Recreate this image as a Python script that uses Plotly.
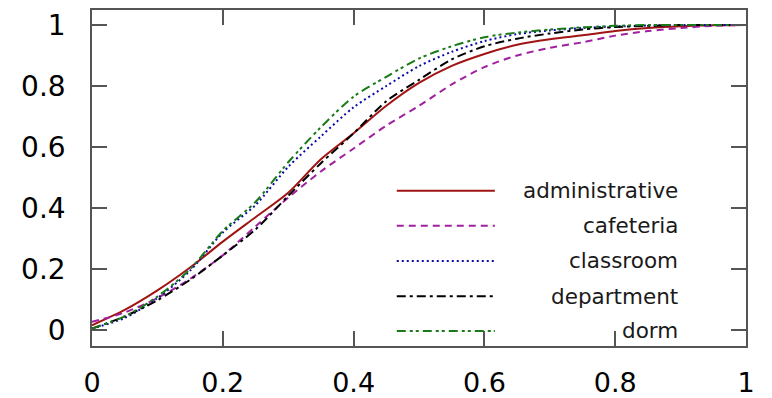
import plotly.graph_objects as go

x_vals = [0, 0.05, 0.1, 0.15, 0.2, 0.25, 0.3, 0.35, 0.4, 0.45, 0.5,
          0.55, 0.6, 0.65, 0.7, 0.75, 0.8, 0.85, 0.9, 0.95, 1.0]

administrative = [0.016, 0.066, 0.13, 0.205, 0.29, 0.37, 0.45, 0.56, 0.645, 0.735, 0.81,
                  0.866, 0.905, 0.935, 0.953, 0.966, 0.98, 0.99, 0.996, 0.999, 1.0]
cafeteria = [0.027, 0.058, 0.105, 0.168, 0.245, 0.34, 0.434, 0.52, 0.595, 0.67, 0.735,
             0.805, 0.862, 0.9, 0.925, 0.943, 0.965, 0.98, 0.99, 0.997, 1.0]
classroom = [0.005, 0.04, 0.105, 0.195, 0.32, 0.41, 0.535, 0.635, 0.73, 0.80, 0.865,
             0.912, 0.947, 0.97, 0.982, 0.99, 0.995, 0.998, 1.0, 1.0, 1.0]
department = [0.005, 0.045, 0.098, 0.165, 0.245, 0.33, 0.44, 0.547, 0.645, 0.75, 0.82,
              0.887, 0.93, 0.955, 0.972, 0.985, 0.993, 0.997, 1.0, 1.0, 1.0]
dorm = [0.005, 0.045, 0.11, 0.2, 0.325, 0.42, 0.55, 0.665, 0.765, 0.83, 0.89,
        0.93, 0.96, 0.975, 0.985, 0.992, 0.997, 1.0, 1.0, 1.0, 1.0]

names = ["administrative", "cafeteria", "classroom", "department", "dorm"]
series = [administrative, cafeteria, classroom, department, dorm]
colors = ["#a01414", "#a020a0", "#0a0aa8", "#000000", "#1a7a1a"]
dashes = ["solid", "7px,5px", "2px,3px", "9px,4px,3px,4px", "9px,4px,3px,3px,3px,4px"]

x_ticks = [0, 0.2, 0.4, 0.6, 0.8, 1]
x_ticktext = ["0", "0.2", "0.4", "0.6", "0.8", "1"]
y_ticks = [0, 0.2, 0.4, 0.6, 0.8, 1]
y_ticktext = ["0", "0.2", "0.4", "0.6", "0.8", "1"]

FONT = "DejaVu Sans, Liberation Sans, Arial, sans-serif"

fig = go.Figure()
for name, ys, c, d in zip(names, series, colors, dashes):
    fig.add_trace(go.Scatter(x=x_vals, y=ys, mode="lines", name=name,
                             line=dict(color=c, width=2, dash=d, shape="spline", smoothing=0.8),
                             hoverinfo="skip", showlegend=False))

# manual legend (right-aligned text, line samples on the left)
leg_y = [0.462, 0.358, 0.253, 0.148, 0.045]
for name, c, d, ly in zip(names, colors, dashes, leg_y):
    fig.add_shape(type="line", xref="paper", yref="paper",
                  x0=0.466, x1=0.616, y0=ly, y1=ly,
                  line=dict(color=c, width=2, dash=d))
    fig.add_annotation(xref="paper", yref="paper", x=0.899, y=ly,
                       xanchor="right", yanchor="middle", text=name, showarrow=False,
                       font=dict(size=21.5, color="#1a1a1a", family=FONT))

axis_common = dict(showgrid=False, zeroline=False, showline=True, mirror="allticks",
                   linecolor="#555555", linewidth=1.5, ticks="inside", ticklen=15,
                   tickcolor="#555555", tickwidth=1.5, automargin=False)

fig.update_xaxes(range=[0, 1], tickvals=x_ticks, ticktext=x_ticktext,
                 ticklabelstandoff=12,
                 tickfont=dict(size=27, color="#000000", family=FONT), **axis_common)
fig.update_yaxes(range=[-0.052, 1.049], tickvals=y_ticks, ticktext=y_ticktext,
                 ticklabelstandoff=19,
                 tickfont=dict(size=28, color="#000000", family=FONT), **axis_common)

# the page body adds an 8px offset, so the figure is sized to fit the window
fig.update_layout(width=764, height=390, margin=dict(l=84, r=26, t=2, b=52),
                  plot_bgcolor="white", paper_bgcolor="white", showlegend=False)

fig.write_html("out.html", config={"displayModeBar": False})
